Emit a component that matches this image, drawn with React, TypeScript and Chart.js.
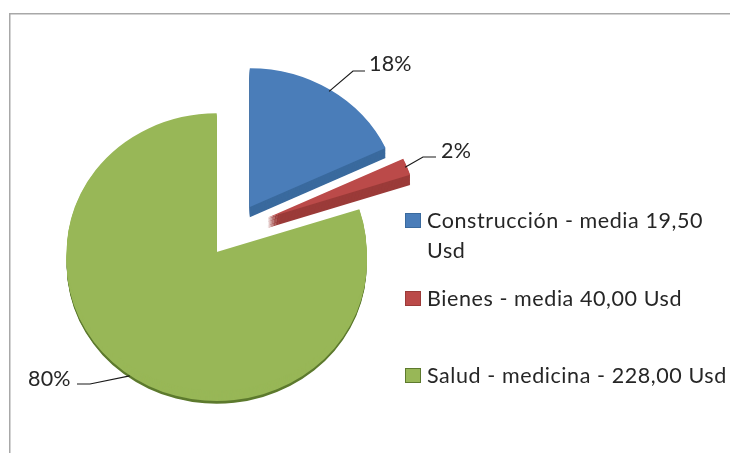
import React, { useEffect, useRef } from "react";
import { Chart, registerables } from "chart.js";

Chart.register(...registerables);

const categories = ["Construcción - media 19,50 Usd", "Bienes - media 40,00 Usd", "Salud - medicina - 228,00 Usd"];
const shares = [18, 2, 80];
const legendLines = [["Construcción - media 19,50", "Usd"], ["Bienes - media 40,00 Usd"], ["Salud - medicina - 228,00 Usd"]];
const sliceColors = ["#4a7db9", "#bb4a49", "#98b757"];
const sideColors = ["#3a6a9e", "#9b3b39", "#98b757"];
const explode = [29.5, 36, 29.5];
const rimColor = "#5d7a2e";

const Y_SCALE = 0.925;
const TEXT = "#262626";
const FONT = "21.5px Lato";

function App() {
  const ref = useRef<HTMLCanvasElement>(null);
  useEffect(() => {
    const decor = {
      id: "decor",
      afterDatasetsUpdate(chart: any) {
        chart.getDatasetMeta(0).data.forEach((arc: any, i: number) => {
          const mid = (arc.startAngle + arc.endAngle) / 2;
          arc.x += Math.cos(mid) * explode[i];
          arc.y += Math.sin(mid) * explode[i];
        });
      },
      beforeDraw(chart: any) {
        const c = chart.ctx;
        c.save();
        c.fillStyle = "#ffffff";
        c.fillRect(0, 0, chart.width, chart.height);
        c.fillStyle = "#a8a8a8";
        c.fillRect(9, 13, chart.width - 9, 1.5);
        c.fillRect(9, 13, 1.5, chart.height - 13);
        c.restore();
      },
      beforeDatasetsDraw(chart: any) {
        const c = chart.ctx;
        const cy = (chart.chartArea.top + chart.chartArea.bottom) / 2;
        c.save();
        c.translate(0, cy);
        c.scale(1, Y_SCALE);
        c.translate(0, -cy);
        const arcs = chart.getDatasetMeta(0).data;
        arcs.forEach((arc: any, i: number) => {
          const p = arc.getProps(["x", "y", "startAngle", "endAngle", "outerRadius"]);
          const depth = i === 2 ? 14 : 11;
          for (let d = depth; d >= 1; d--) {
            c.beginPath();
            c.moveTo(p.x, p.y + d);
            c.arc(p.x, p.y + d, p.outerRadius, p.startAngle, p.endAngle);
            c.closePath();
            c.fillStyle = i === 2 && d > 11 ? rimColor : sideColors[i];
            c.fill();
          }
        });
      },
      afterDatasetsDraw(chart: any) {
        const c = chart.ctx;
        c.restore();
        const cy = (chart.chartArea.top + chart.chartArea.bottom) / 2;
        const arcs = chart.getDatasetMeta(0).data;
        const anchor = (i: number) => {
          const p = arcs[i].getProps(["x", "y", "startAngle", "endAngle", "outerRadius"]);
          const mid = (p.startAngle + p.endAngle) / 2;
          const x = p.x + Math.cos(mid) * (p.outerRadius - 2);
          const y = cy + (p.y + Math.sin(mid) * (p.outerRadius - 2) - cy) * Y_SCALE;
          return [x, y];
        };
        const leaders = [
          [[353, 71], [365, 71]],
          [[423, 157], [436, 157]],
          [[90, 384], [77, 384]],
        ];
        const labelPos = [[369, 71], [441, 158], [28, 386]];
        c.save();
        c.strokeStyle = "#1a1a1a";
        c.lineWidth = 1.2;
        leaders.forEach((pts, i) => {
          const [ax, ay] = anchor(i);
          c.beginPath();
          c.moveTo(ax, i === 2 ? ay + 13 : ay);
          pts.forEach(([x, y]) => c.lineTo(x, y));
          c.stroke();
        });
        c.font = FONT;
        c.fillStyle = TEXT;
        c.textBaseline = "alphabetic";
        c.letterSpacing = "0.2px";
        shares.forEach((v, i) => c.fillText(`${v}%`, labelPos[i][0], labelPos[i][1]));

        // legend
        const rows = [[228, 258], [306], [383]];
        c.letterSpacing = "0.58px";
        legendLines.forEach((lines, i) => {
          const top = rows[i][0] - 15;
          c.fillStyle = sliceColors[i];
          c.fillRect(405, top, 16, 15);
          c.strokeStyle = sideColors[i] === sliceColors[i] ? rimColor : sideColors[i];
          c.lineWidth = 1;
          c.strokeRect(405.5, top + 0.5, 15, 14);
          c.fillStyle = TEXT;
          lines.forEach((t, j) => c.fillText(t, 427, rows[i][j]));
        });
        c.restore();
      },
    };
    const chart = new Chart(ref.current as HTMLCanvasElement, {
      type: "pie",
      data: {
        labels: categories,
        datasets: [
          {
            data: shares,
            backgroundColor: sliceColors,
            borderWidth: 0,
          },
        ],
      },
      options: {
        animation: false,
        responsive: false,
        radius: 150,
        rotation: 0,
        layout: { padding: { left: 0, right: 262, top: 7, bottom: 0 } },
        plugins: { legend: { display: false }, tooltip: { enabled: false } },
      },
      plugins: [decor],
    } as any);
    return () => chart.destroy();
  }, []);
  return (
    <div style={{ position: "absolute", left: 0, top: 0, width: 730, height: 453, overflow: "hidden" }}>
      <canvas ref={ref} width={730} height={453} style={{ display: "block" }} />
    </div>
  );
}

export default App;
